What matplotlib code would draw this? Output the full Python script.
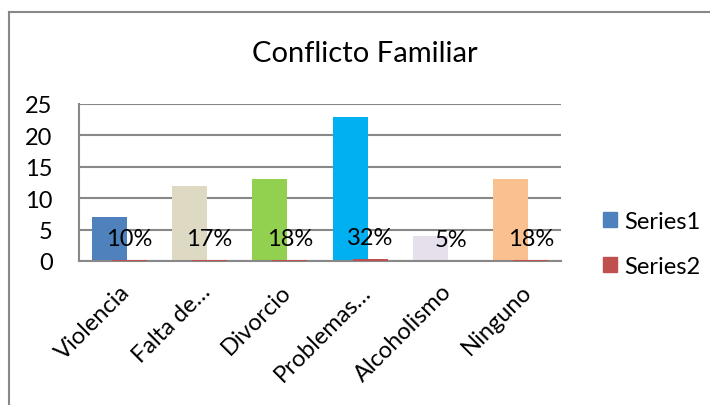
import matplotlib
matplotlib.use("Agg")
import matplotlib.pyplot as plt
from matplotlib.lines import Line2D
import numpy as np

categories = ["Violencia", "Falta de…", "Divorcio", "Problemas…", "Alcoholismo", "Ninguno"]
series1 = [7, 12, 13, 23, 4, 13]
series2 = [0.10, 0.17, 0.18, 0.32, 0.05, 0.18]
point_colors = ["#4F81BD", "#DDD9C3", "#92D050", "#00B0F0", "#E6E0EC", "#FAC090"]
series1_color = "#4F81BD"
series2_color = "#C0504D"
yticks = [0, 5, 10, 15, 20, 25]

plt.rcParams['font.family'] = ['Lato', 'DejaVu Sans']

fig = plt.figure(figsize=(7.10, 4.06), dpi=100)
ax = fig.add_axes([79/710, 1-262/406, (561-79)/710, (262-105)/406])

x = np.arange(len(categories))
w = 0.436
off = 0.125
b1 = ax.bar(x - off, series1, width=w, color=point_colors, zorder=2, label="Series1")
b2 = ax.bar(x + off, series2, width=w, color=series2_color, zorder=3, label="Series2")
ax.bar_label(b2, labels=[f"{v*100:.0f}%" for v in series2], padding=8, fontsize=17, zorder=4)

ax.set_xlim(-0.5, len(categories) - 0.5)
ax.set_ylim(0, 25)
ax.set_yticks(yticks)
ax.set_yticklabels([str(t) for t in yticks], fontsize=17)
ax.yaxis.grid(True, color="#888888", linewidth=1.5, zorder=0)
ax.set_axisbelow(True)
ax.tick_params(axis="y", length=0, pad=19)
ax.tick_params(axis="x", length=0, pad=14)
ax.set_xticks(x)
ax.set_xticklabels(categories, rotation=45, ha="right", va="top",
                   rotation_mode="anchor", fontsize=17)
for s in ["top", "right"]:
    ax.spines[s].set_visible(False)
for s in ["left", "bottom"]:
    ax.spines[s].set_color("#888888")
    ax.spines[s].set_linewidth(1.5)

fig.text(365/710, 1-54/406, "Conflicto Familiar", ha="center", va="center", fontsize=21)

handles = [plt.Rectangle((0, 0), 1, 1, color=series1_color),
           plt.Rectangle((0, 0), 1, 1, color=series2_color)]
fig.legend(handles, ["Series1", "Series2"], loc="center left",
           bbox_to_anchor=(603/710, 1-245/406), frameon=False, fontsize=17,
           handlelength=0.6, handleheight=0.6, handletextpad=0.3, labelspacing=1.0,
           borderpad=0, borderaxespad=0)

fig.add_artist(Line2D([9/710, 9/710], [0, 1-13/406], transform=fig.transFigure,
                      color="#888888", linewidth=1.5))
fig.add_artist(Line2D([9/710, 1], [1-13/406, 1-13/406], transform=fig.transFigure,
                      color="#888888", linewidth=1.5))

fig.savefig("out.png", dpi=100)
